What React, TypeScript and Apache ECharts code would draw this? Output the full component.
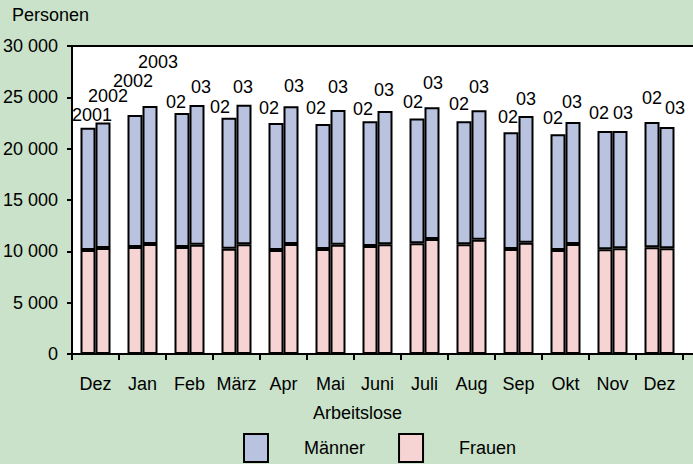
import React, { useEffect, useRef } from "react";
import * as echarts from "echarts";

const MONTHS = ["Dez", "Jan", "Feb", "März", "Apr", "Mai", "Juni", "Juli", "Aug", "Sep", "Okt", "Nov", "Dez"];

// first bar of each month (2001 for Dez, else 2002)
const FRAUEN_A = [10130, 10420, 10420, 10260, 10130, 10230, 10520, 10780, 10680, 10230, 10130, 10200, 10390];
const MAENNER_A = [11910, 12860, 13050, 12750, 12370, 12170, 12140, 12170, 11980, 11360, 11270, 11520, 12210];
// second bar of each month (2002 for Dez, else 2003)
const FRAUEN_B = [10320, 10710, 10650, 10680, 10710, 10650, 10680, 11200, 11130, 10840, 10710, 10290, 10290];
const MAENNER_B = [12240, 13440, 13600, 13600, 13410, 13110, 12990, 12830, 12600, 12340, 11890, 11430, 11820];

const LABELS_A = ["2001", "2002", "02", "02", "02", "02", "02", "02", "02", "02", "02", "02", "02"];
const LABELS_B = ["2002", "2003", "03", "03", "03", "03", "03", "03", "03", "03", "03", "03", "03"];

const Y_TICKS = [0, 5000, 10000, 15000, 20000, 25000, 30000];

// label nudges: [dx, centre distance above bar top]
const NUDGE_A = [[4, 13], [-2, 34], [-6, 11], [-9, 11], [-7, 15], [-7, 16], [-7, 12], [-4, 16], [-5, 17], [-3, 15], [-5, 16], [-6, 18], [0, 24]];
const NUDGE_B = [[5, 26], [8, 44], [4, 18], [-1, 18], [3, 20], [0, 23], [-1, 21], [1, 24], [0, 23], [0, 17], [-1, 20], [3, 18], [8, 19]];

const FONT = "Liberation Sans, Arial, Helvetica, sans-serif";
const BLUE = "#b9c3e0";
const PINK = "#f6d4d3";
const BG = "#c9e2c9";

const fmt = (v: number) => String(v).replace(/\B(?=(\d{3})+(?!\d))/g, " ");

export default function App() {
  const ref = useRef<HTMLDivElement>(null);
  useEffect(() => {
    if (!ref.current) return;
    const chart = echarts.init(ref.current, null, { renderer: "svg" });
    const barBase = { type: "bar", barWidth: 15, barGap: "0%", itemStyle: { borderColor: "#000", borderWidth: 2 } };
    const labeled = (vals: number[], labels: string[], nudges: number[][]) =>
      vals.map((v, i) => ({
        value: v,
        label: {
          show: true,
          position: "top",
          distance: 0,
          formatter: labels[i],
          offset: [nudges[i][0], -(nudges[i][1] - 9)],
          fontSize: 18,
          fontFamily: FONT,
          color: "#000",
        },
      }));
    chart.setOption({
      animation: false,
      backgroundColor: BG,
      textStyle: { fontFamily: FONT },
      title: [
        { text: "Personen", left: 12, top: 6, padding: 0, textStyle: { fontSize: 18, fontWeight: "normal", color: "#000", fontFamily: FONT } },
        { text: "Arbeitslose", left: 313, top: 404, padding: 0, textStyle: { fontSize: 18, fontWeight: "normal", color: "#000", fontFamily: FONT } },
      ],
      legend: {
        left: 243,
        top: 433,
        padding: 0,
        icon: "rect",
        itemWidth: 24,
        itemHeight: 28,
        itemGap: 33,
        data: ["Männer", "Frauen"],
        itemStyle: { borderColor: "#000", borderWidth: 2 },
        textStyle: { fontSize: 18, color: "#000", fontFamily: FONT, padding: [0, 0, 0, 31] },
        selectedMode: false,
      },
      grid: {
        left: 72,
        right: 10,
        top: 46,
        bottom: 110,
        show: true,
        backgroundColor: "#fff",
        borderWidth: 0,
        outerBoundsMode: "none",
      },
      graphic: [
        { type: "rect", shape: { x: 683, y: 46, width: 10, height: 308 }, style: { fill: "#fff" }, z: -1 },
        { type: "line", shape: { x1: 71, y1: 46, x2: 693, y2: 46 }, style: { stroke: "#000", lineWidth: 2 }, z: 10 },
        { type: "line", shape: { x1: 683, y1: 354, x2: 693, y2: 354 }, style: { stroke: "#000", lineWidth: 2 }, z: 10 },
      ],
      xAxis: {
        type: "category",
        data: MONTHS,
        axisLine: { lineStyle: { color: "#000", width: 2 } },
        axisTick: { show: true, length: 6, lineStyle: { color: "#000", width: 2 } },
        axisLabel: { interval: 0, fontSize: 18, color: "#000", margin: 21, fontFamily: FONT },
      },
      yAxis: {
        type: "value",
        min: Y_TICKS[0],
        max: Y_TICKS[Y_TICKS.length - 1],
        interval: 5000,
        splitLine: { show: false },
        axisLine: { show: true, lineStyle: { color: "#000", width: 2 } },
        axisTick: { show: true, length: 5, lineStyle: { color: "#000", width: 2 } },
        axisLabel: { fontSize: 18, color: "#000", margin: 14, fontFamily: FONT, formatter: (v: number) => fmt(v) },
      },
      series: [
        { ...barBase, name: "Frauen", stack: "a", data: FRAUEN_A, itemStyle: { ...barBase.itemStyle, color: PINK } },
        { ...barBase, name: "Männer", stack: "a", data: labeled(MAENNER_A, LABELS_A, NUDGE_A), itemStyle: { ...barBase.itemStyle, color: BLUE } },
        { ...barBase, name: "Frauen", stack: "b", data: FRAUEN_B, itemStyle: { ...barBase.itemStyle, color: PINK } },
        { ...barBase, name: "Männer", stack: "b", data: labeled(MAENNER_B, LABELS_B, NUDGE_B), itemStyle: { ...barBase.itemStyle, color: BLUE } },
      ],
    });
    return () => chart.dispose();
  }, []);
  return <div ref={ref} style={{ position: "fixed", left: 0, top: 0, width: 693, height: 464 }} />;
}
